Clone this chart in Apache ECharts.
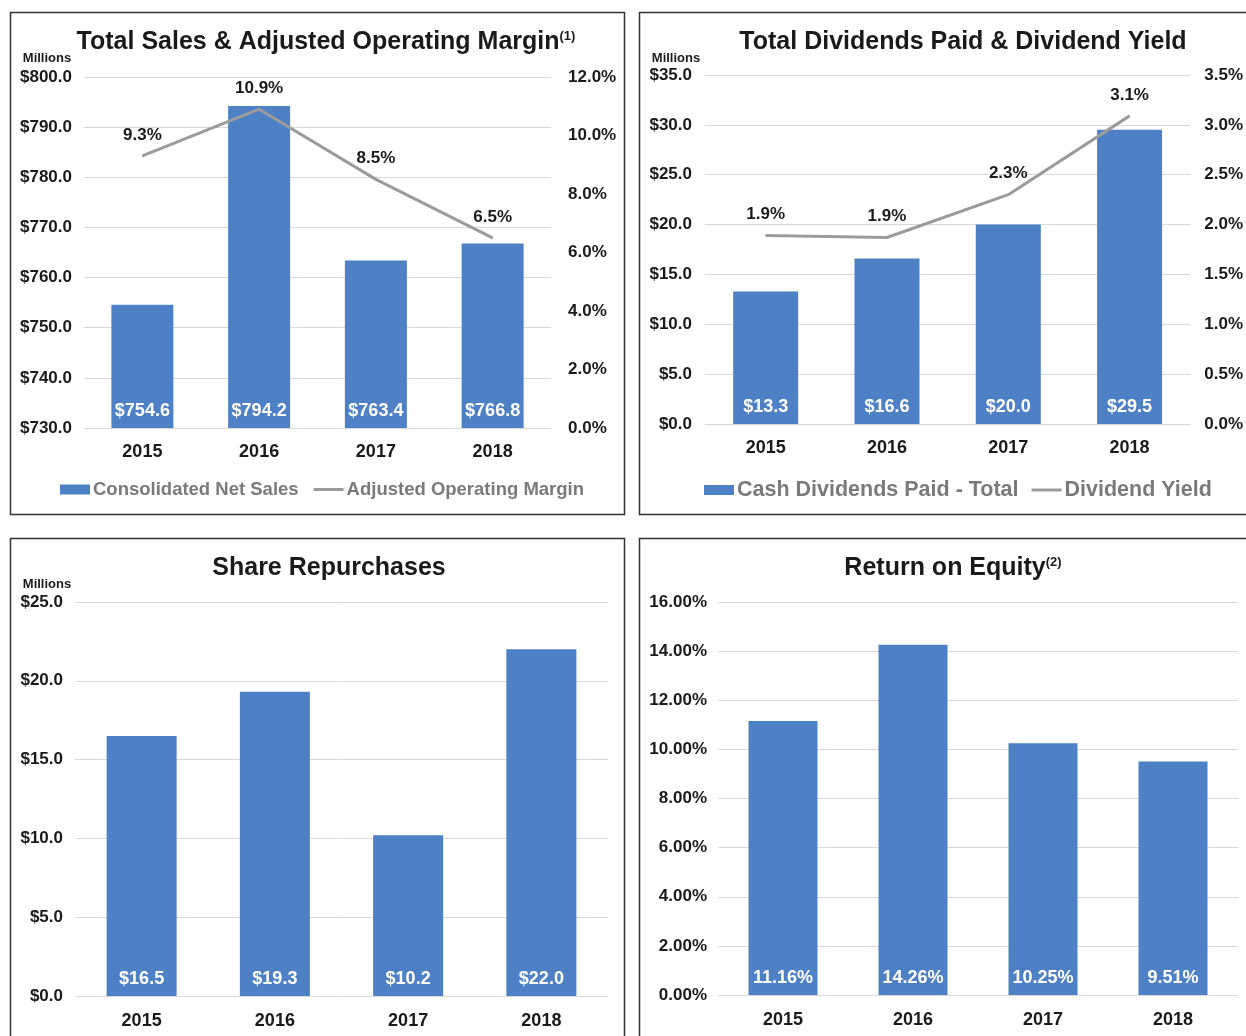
<!DOCTYPE html>
<html><head><meta charset="utf-8">
<script src="https://cdn.jsdelivr.net/npm/echarts@6/dist/echarts.min.js"></script>
<style>html,body{margin:0;padding:0;background:#fff}#c{width:1246px;height:1036px}</style>
</head><body><div id="c"></div>
<script>
// ---- data ----
const years = ['2015', '2016', '2017', '2018'];
const netSales = [754.6, 794.2, 763.4, 766.8];
const opMargin = [9.3, 10.9, 8.5, 6.5];
const dividends = [13.3, 16.6, 20.0, 29.5];
const divYield = [1.89, 1.87, 2.30, 3.09];
const repurchases = [16.5, 19.3, 10.2, 22.0];
const roe = [11.16, 14.26, 10.25, 9.51];
const panelTitles = ['Total Sales & Adjusted Operating Margin', 'Total Dividends Paid & Dividend Yield', 'Share Repurchases', 'Return on Equity'];
const titleNotes = ['(1)', '', '', '(2)'];
const legendNames = ['Consolidated Net Sales', 'Adjusted Operating Margin', 'Cash Dividends Paid - Total', 'Dividend Yield'];
const unitLabel = 'Millions';

// ---- styles ----
const FONT = '"Liberation Sans", Arial, Helvetica, sans-serif';
const BLUE = '#4d80c4';
const GREY = '#9b9b9b';
const TXT = '#1a1a1a';

const chart = echarts.init(document.getElementById('c'), null, {renderer: 'canvas'});

const dollar1 = v => '$' + v.toFixed(1);
const pct1 = v => v.toFixed(1) + '%';
const pct2 = v => v.toFixed(2) + '%';

function xAx(gi, margin) {
  return {
    type: 'category', gridIndex: gi, data: years,
    axisLine: {show: false}, axisTick: {show: false},
    axisLabel: {color: TXT, fontFamily: FONT, fontWeight: 'bold', fontSize: 18, margin}
  };
}
function yAx(gi, min, max, interval, fmt, pos, split, margin) {
  return {
    type: 'value', gridIndex: gi, min, max, interval, position: pos,
    axisLine: {show: false}, axisTick: {show: false},
    splitLine: {show: split, lineStyle: {color: '#d9d9d9', width: 1}},
    axisLabel: {color: TXT, fontFamily: FONT, fontWeight: 'bold', fontSize: 17, margin, formatter: fmt}
  };
}
function barSeries(name, xi, yi, data, fmt, width) {
  return {
    type: 'bar', name, xAxisIndex: xi, yAxisIndex: yi, data,
    barWidth: width, itemStyle: {color: BLUE},
    label: {show: true, position: 'insideBottom', distance: 8, color: '#fff',
      fontFamily: FONT, fontWeight: 'bold', fontSize: 18, formatter: p => fmt(p.value)}
  };
}
function lineSeries(name, xi, yi, data) {
  return {
    type: 'line', name, xAxisIndex: xi, yAxisIndex: yi, data,
    symbol: 'circle', symbolSize: 1, showSymbol: true,
    lineStyle: {color: GREY, width: 3}, itemStyle: {color: GREY},
    label: {show: true, position: 'top', distance: 12, color: TXT,
      fontFamily: FONT, fontWeight: 'bold', fontSize: 17, formatter: p => pct1(p.value)}
  };
}
function titleText(i, x, y) {
  return {
    type: 'text', z: 10,
    style: {
      text: panelTitles[i] + (titleNotes[i] ? '{s|' + titleNotes[i] + '}' : ''),
      x, y, fill: TXT, fontFamily: FONT, fontWeight: 'bold', fontSize: 25,
      align: 'center', verticalAlign: 'middle', textAlign: 'center', textVerticalAlign: 'middle',
      rich: {s: {fontSize: 13, fontWeight: 'bold', fontFamily: FONT, fill: TXT, verticalAlign: 'top'}}
    }
  };
}
function unitText(x, y) {
  return {
    type: 'text', z: 10,
    style: {text: unitLabel, x, y, fill: TXT, fontFamily: FONT, fontWeight: 'bold', fontSize: 13,
      align: 'center', verticalAlign: 'middle', textAlign: 'center', textVerticalAlign: 'middle'}
  };
}
function border(x, y, w, h) {
  return {type: 'rect', z: 1, shape: {x, y, width: w, height: h},
    style: {fill: 'none', stroke: '#333', lineWidth: 1.5}};
}
const lineIcon = 'path://M0,0 L30,0 L30,3 L0,3 Z';
function legend(left, top, names, fs, gap) {
  return {
    left, top, padding: 0, itemGap: gap, itemWidth: 30, itemHeight: 10,
    data: [{name: names[0], icon: 'rect'}, {name: names[1], icon: lineIcon}],
    textStyle: {color: '#7a7a7a', fontFamily: FONT, fontWeight: 'bold', fontSize: fs, padding: [0, 0, 0, -2]}
  };
}

const option = {
  backgroundColor: '#fff',
  animation: false,
  grid: [
    {left: 84, top: 77, width: 467, height: 351},
    {left: 705, top: 75, width: 490, height: 349},
    {left: 75, top: 602, width: 533, height: 394},
    {left: 718, top: 602, width: 520, height: 393}
  ],
  xAxis: [xAx(0, 15), xAx(1, 15), xAx(2, 16), xAx(3, 16)],
  yAxis: [
    yAx(0, 730, 800, 10, dollar1, 'left', true, 12),
    yAx(0, 0, 12, 2, pct1, 'right', false, 17),
    yAx(1, 0, 35, 5, dollar1, 'left', true, 13),
    yAx(1, 0, 3.5, 0.5, pct1, 'right', false, 14),
    yAx(2, 0, 25, 5, dollar1, 'left', true, 12),
    yAx(3, 0, 16, 2, pct2, 'left', true, 11)
  ],
  legend: [
    legend(60, 480, legendNames.slice(0, 2), 18.5, 15),
    legend(704, 479, legendNames.slice(2, 4), 21.5, 13)
  ],
  series: [
    barSeries(legendNames[0], 0, 0, netSales, dollar1, 62),
    lineSeries(legendNames[1], 0, 1, opMargin),
    barSeries(legendNames[2], 1, 2, dividends, dollar1, 65),
    lineSeries(legendNames[3], 1, 3, divYield),
    barSeries('Share Repurchases', 2, 4, repurchases, dollar1, 70),
    barSeries('Return on Equity', 3, 5, roe, pct2, 69)
  ],
  graphic: {elements: [
    border(10.5, 12.5, 614, 502),
    border(639.5, 12.5, 620, 502),
    border(10.5, 538.5, 614, 540),
    border(639.5, 538.5, 620, 540),
    titleText(0, 326, 42),
    titleText(1, 963, 42),
    titleText(2, 329, 568),
    titleText(3, 953, 568),
    unitText(47, 58),
    unitText(676, 58),
    unitText(47, 584)
  ]}
};
chart.setOption(option);
</script>
</body></html>
